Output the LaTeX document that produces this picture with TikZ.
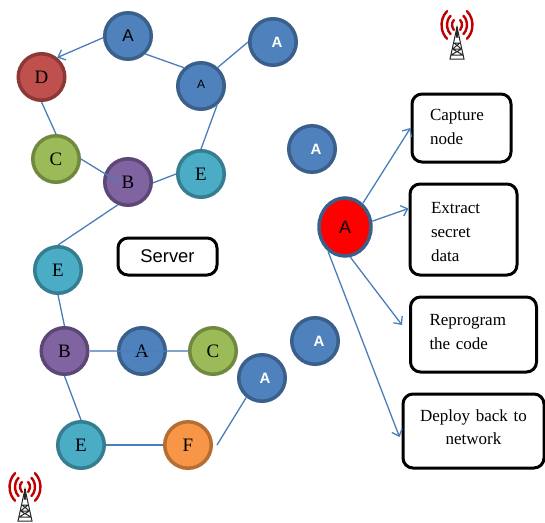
\documentclass[tikz,border=0pt]{standalone}
\usepackage{fontspec}
\setmainfont{Liberation Serif}
\newfontfamily\sansf{Liberation Sans}
\usetikzlibrary{arrows.meta,shapes.geometric}
\definecolor{bluef}{HTML}{4F81BD}\definecolor{blued}{HTML}{3A5F8B}
\definecolor{redf}{HTML}{C0504D}\definecolor{redd}{HTML}{8C3836}
\definecolor{greenf}{HTML}{9BBB59}\definecolor{greend}{HTML}{71893F}
\definecolor{purplef}{HTML}{8064A2}\definecolor{purpled}{HTML}{5C4776}
\definecolor{tealf}{HTML}{4BACC6}\definecolor{teald}{HTML}{357D91}
\definecolor{orangef}{HTML}{F79646}\definecolor{oranged}{HTML}{B66D31}
\definecolor{link}{HTML}{4A7EBB}\definecolor{wave}{HTML}{C00000}
\tikzset{
  x=1pt,y=-1pt,
  nd/.style={circle,inner sep=0pt,minimum size=46.5pt,line width=3.5pt,font=\fontsize{19}{21}\selectfont},
  nblue/.style={nd,fill=bluef,draw=blued},
  nred/.style={nd,fill=redf,draw=redd},
  ngreen/.style={nd,fill=greenf,draw=greend},
  npurple/.style={nd,fill=purplef,draw=purpled},
  nteal/.style={nd,fill=tealf,draw=teald},
  norange/.style={nd,fill=orangef,draw=oranged},
  nwhite/.style={nblue,text=white,font=\sansf\bfseries\fontsize{15}{17}\selectfont},
  box/.style={draw=black,fill=white,line width=3pt,rounded corners=10pt,inner sep=0pt,align=left,font=\fontsize{17}{24}\selectfont},
  lnk/.style={draw=link,line width=1.3pt},
  arr/.style={lnk,-{Straight Barb[length=6pt,width=11pt]}},
  pics/tower/.style={code={
    \foreach \r/\s in {15.5/18,10/12,5/6.5}{
      \draw[wave,line width=2.4pt,line cap=round] (-\r*0.64,-\s*0.77) arc[start angle=230,end angle=130,x radius=\r,y radius=\s];
      \draw[wave,line width=2.4pt,line cap=round] (\r*0.64,-\s*0.77) arc[start angle=-50,end angle=50,x radius=\r,y radius=\s];
    }
    \draw[black!85,line width=1pt] (0,2)--(-7,34)--(7,34)--cycle;
    \draw[black!85,line width=1pt] (-1.5,12)--(1.5,12) (-3,18)--(3,18) (-4.5,24)--(4.5,24) (-6,30)--(6,30) (-6,30)--(4.5,24) (6,30)--(-4.5,24) (-4.5,24)--(3,18) (4.5,24)--(-3,18);
    \draw[black!85,line width=1.4pt] (0,2)--(0,12);
  }}
}
\begin{document}
\begin{tikzpicture}
\useasboundingbox (0,0) rectangle (545,522);
\node[nblue,font=\sansf\fontsize{17}{19}\selectfont] (a1) at (128,36) {A};
\node[nred] (d) at (41.5,77) {D};
\node[ngreen] (c) at (56,159) {C};
\node[npurple] (b) at (128,182) {B};
\node[nteal] (e) at (201,174) {E};
\node[nblue,font=\sansf\fontsize{12}{14}\selectfont] (a2) at (201,86) {\raisebox{4pt}{A}};
\node[nwhite] (a3) at (273,42) {\hspace{8pt}\raisebox{-2pt}{A}};
\node[nwhite] (a4) at (312,149) {\hspace{8pt}\raisebox{-2pt}{A}};
\node[nteal] (e2) at (58,270) {E};
\node[npurple] (b2) at (64.5,351) {B};
\node[nblue] (a5) at (142,351) {A};
\node[ngreen] (c2) at (213,351) {C};
\node[nwhite] (a6) at (262,378) {\hspace{6pt}\raisebox{-2pt}{A}};
\node[norange] (f) at (188,445) {F};
\node[nteal] (e3) at (81,445) {E};
\node[nwhite] (a7) at (315,341) {\hspace{8pt}\raisebox{-2pt}{A}};
\node[ellipse,inner sep=0pt,minimum width=52pt,minimum height=58pt,fill=red,draw=blued,line width=3.5pt,font=\sansf\fontsize{18}{20}\selectfont] (ra) at (345,227) {A};
\node[box,minimum width=99pt,minimum height=37pt,font=\sansf\fontsize{18.4}{20}\selectfont,align=center] (srv) at (167.5,256.5) {Server};
\node[box,minimum width=99pt,minimum height=68pt,text width=63pt,inner xsep=18pt] (cap) at (461.5,128) {Capture\\node\rule[-2pt]{0pt}{0pt}};
\node[box,minimum width=107pt,minimum height=91pt,text width=65pt,inner xsep=21pt] (ext) at (463.5,229.5) {\rule{0pt}{16pt}Extract\\secret\\data};
\node[box,minimum width=126pt,minimum height=75pt,text width=88pt,inner xsep=19pt] (rep) at (473.5,334.5) {Reprogram\\the code\rule[-6pt]{0pt}{0pt}};
\node[box,minimum width=141pt,minimum height=74pt,text width=130pt,align=center] (dep) at (473.5,431) {Deploy back to\\[-1pt]network\rule[-8pt]{0pt}{0pt}};
\draw[arr] (a1.184) -- (d.51);
\draw[lnk] (d.-90) -- (c.90);
\draw[lnk] (c.0) -- ([xshift=-8pt,yshift=-1pt]b.center);
\draw[lnk] (b.-2) -- (e.180);
\draw[lnk] (a1.-46) -- (a2.133);
\draw[lnk] (a2.48) -- (a3.180);
\draw[lnk] (a2.-50) -- (e.90);
\draw[lnk] (b.-114) -- (e2.90);
\draw[lnk] (e2.-90) -- (b2.90);
\draw[lnk,opacity=.7] (b2.0) -- (c2.180);
\draw[lnk] (b2.-90) -- (e3.90);
\draw[lnk] (e3.0) -- (f.180);
\draw[lnk] ([xshift=29pt]f.center) -- (a6.231);
\draw[arr] (ra.53) -- (cap.west);
\draw[arr] (ra.12) -- ([yshift=21pt]ext.west);
\draw[arr] (ra.-80) -- ([xshift=-7pt,yshift=9.5pt]rep.west);
\draw[arr] (ra.-125) -- ([xshift=-2pt,yshift=-6pt]dep.west);
\pic at (457,25) {tower};
\pic at (25,487) {tower};
\end{tikzpicture}
\end{document}
